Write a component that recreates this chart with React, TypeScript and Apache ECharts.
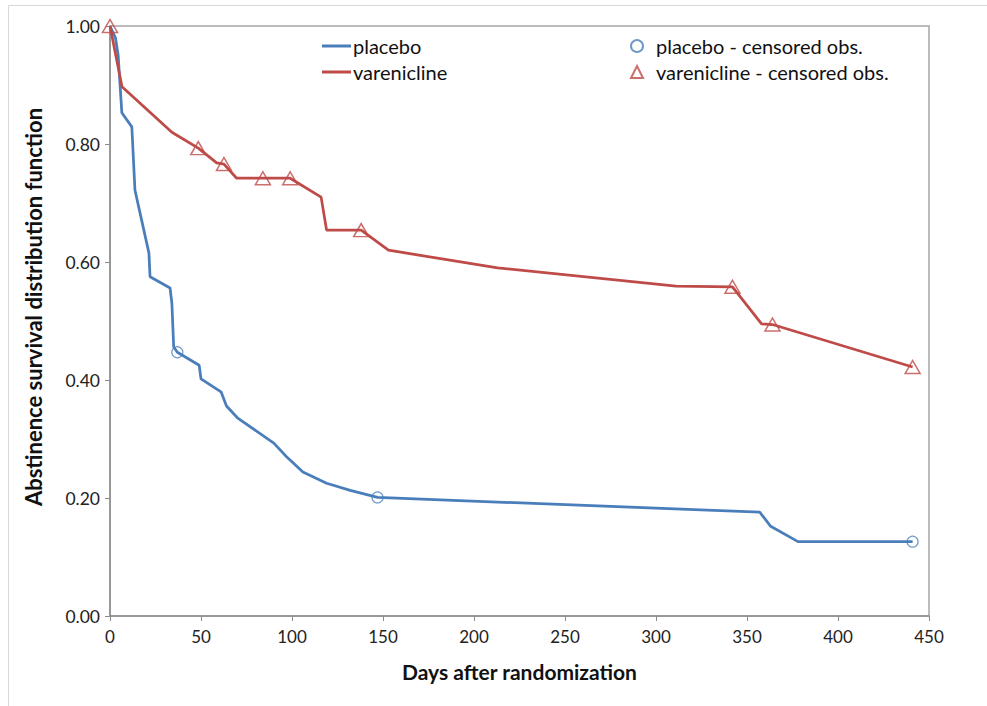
import React, { useEffect, useRef } from "react";
import * as echarts from "echarts";

const placeboDays = [0, 3, 4.5, 6.5, 12, 13.7, 16, 21.4, 22, 33, 34, 35, 37, 49, 50, 61, 64, 70, 90, 97, 106, 119, 132, 147, 357, 363, 378, 441];
const placeboVals = [1.0, 0.98, 0.95, 0.853, 0.829, 0.722, 0.69, 0.615, 0.575, 0.556, 0.53, 0.456, 0.447, 0.425, 0.402, 0.38, 0.356, 0.336, 0.293, 0.27, 0.244, 0.225, 0.213, 0.201, 0.176, 0.152, 0.126, 0.126];

const vareniclineDays = [0, 6.6, 34, 48.5, 58.6, 62.6, 69.6, 84, 99, 116, 119, 138, 153, 213, 311, 342, 358, 364, 441];
const vareniclineVals = [1.0, 0.897, 0.82, 0.793, 0.768, 0.766, 0.742, 0.742, 0.742, 0.71, 0.654, 0.654, 0.62, 0.59, 0.559, 0.558, 0.495, 0.494, 0.422];

const placeboCensDays = [37, 147, 441];
const placeboCensVals = [0.447, 0.201, 0.126];

const vareniclineCensDays = [0, 48.5, 62.6, 84, 99, 138, 342, 364, 441];
const vareniclineCensVals = [1.0, 0.793, 0.766, 0.742, 0.742, 0.654, 0.558, 0.494, 0.422];

const seriesNames = ["placebo", "varenicline", "placebo - censored obs.", "varenicline - censored obs."];
const xTitle = "Days after randomization";
const yTitle = "Abstinence survival distribution function";

const BLUE = "#4a7ebb";
const RED = "#be4b48";
const FONT = "Lato";

const zip = (xs: number[], ys: number[]) => xs.map((x, i) => [x, ys[i]]);

export default function App() {
  const ref = useRef<HTMLDivElement>(null);
  useEffect(() => {
    if (!ref.current) return;
    const chart = echarts.init(ref.current, null, { renderer: "svg" });
    chart.setOption({
      animation: false,
      backgroundColor: "#fff",
      textStyle: { fontFamily: FONT },
      graphic: [
        {
          type: "rect",
          shape: { x: 8.5, y: 5.5, width: 1100, height: 900 },
          style: { fill: "none", stroke: "#d9d9d9", lineWidth: 1 },
          silent: true,
          z: -10,
        },
      ],
      grid: {
        left: 110,
        right: 58,
        top: 26,
        bottom: 90,
        show: true,
        borderColor: "#a6a6a6",
        borderWidth: 1.5,
        containLabel: false,
      },
      legend: [
        {
          data: [seriesNames[0], seriesNames[1]],
          orient: "vertical",
          left: 317,
          top: 30,
          icon: "rect",
          itemWidth: 29,
          itemHeight: 3,
          itemGap: 4,
          textStyle: { fontFamily: FONT, fontSize: 20, lineHeight: 22, color: "#111", padding: [0, 0, 0, -3] },
        },
        {
          data: [seriesNames[2], seriesNames[3]],
          orient: "vertical",
          left: 625,
          top: 30,
          itemWidth: 12,
          itemHeight: 12,
          itemGap: 4,
          textStyle: { fontFamily: FONT, fontSize: 20, lineHeight: 22, color: "#111", padding: [0, 0, 0, 8] },
        },
      ],
      xAxis: {
        type: "value",
        min: 0,
        max: 450,
        interval: 50,
        name: xTitle,
        nameLocation: "middle",
        nameGap: 45,
        nameTextStyle: { fontFamily: FONT, fontSize: 21, fontWeight: "bold", color: "#111" },
        axisLine: { show: true, lineStyle: { color: "#8c8c8c", width: 1.5 } },
        axisTick: { show: true, length: 5, lineStyle: { color: "#8c8c8c" } },
        axisLabel: { fontFamily: FONT, fontSize: 17, color: "#222", margin: 12 },
        splitLine: { show: false },
      },
      yAxis: {
        type: "value",
        min: 0,
        max: 1,
        interval: 0.2,
        name: yTitle,
        nameLocation: "middle",
        nameGap: 66,
        nameTextStyle: { fontFamily: FONT, fontSize: 22, fontWeight: "bold", color: "#111", padding: [0, 0, 0, 28] },
        axisLine: { show: true, lineStyle: { color: "#8c8c8c", width: 1.5 } },
        axisTick: { show: true, length: 5, lineStyle: { color: "#8c8c8c" } },
        axisLabel: {
          fontFamily: FONT,
          fontSize: 17.5,
          color: "#222",
          margin: 10,
          formatter: (v: number) => v.toFixed(2),
        },
        splitLine: { show: false },
      },
      series: [
        {
          name: seriesNames[0],
          type: "line",
          data: zip(placeboDays, placeboVals),
          symbol: "none",
          itemStyle: { color: BLUE },
          lineStyle: { color: BLUE, width: 2.75 },
          z: 2,
        },
        {
          name: seriesNames[1],
          type: "line",
          data: zip(vareniclineDays, vareniclineVals),
          symbol: "none",
          itemStyle: { color: RED },
          lineStyle: { color: RED, width: 2.75 },
          z: 2,
        },
        {
          name: seriesNames[2],
          type: "scatter",
          data: zip(placeboCensDays, placeboCensVals),
          symbol: "circle",
          symbolSize: 11,
          itemStyle: { color: "rgba(255,255,255,0)", borderColor: BLUE, borderWidth: 1.2 },
          z: 3,
        },
        {
          name: seriesNames[3],
          type: "scatter",
          data: zip(vareniclineCensDays, vareniclineCensVals),
          symbol: "triangle",
          symbolSize: [15, 13],
          itemStyle: { color: "rgba(255,255,255,0)", borderColor: RED, borderWidth: 1.5 },
          z: 3,
        },
      ],
    });
    return () => chart.dispose();
  }, []);
  return (
    <div
      ref={ref}
      style={{ position: "absolute", left: 0, top: 0, width: 987, height: 706 }}
    />
  );
}
